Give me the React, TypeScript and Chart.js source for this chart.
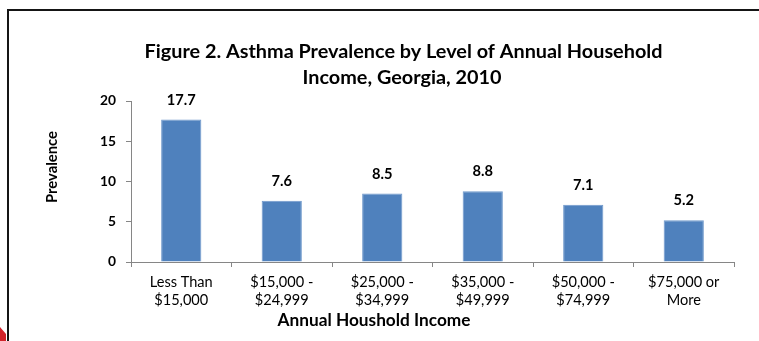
import React, { useEffect, useRef } from "react";
import { Chart, registerables } from "chart.js";

Chart.register(...registerables);

const categories: string[][] = [
  ["Less Than", "$15,000"],
  ["$15,000 -", "$24,999"],
  ["$25,000 -", "$34,999"],
  ["$35,000 -", "$49,999"],
  ["$50,000 -", "$74,999"],
  ["$75,000 or", "More"],
];
const prevalence: number[] = [17.7, 7.6, 8.5, 8.8, 7.1, 5.2];
const yTicks: number[] = [0, 5, 10, 15, 20];
const titleLines: string[] = [
  "Figure 2. Asthma Prevalence by Level of Annual Household",
  "Income, Georgia, 2010",
];
const xTitle = "Annual Houshold Income";
const yTitle = "Prevalence";

const FONT = "Lato, 'Open Sans', sans-serif";
const W = 759;
const H = 341;

function fitSize(text: string, weight: string, target: number): number {
  const c = document.createElement("canvas");
  const ctx = c.getContext("2d")!;
  ctx.font = `${weight} 100px ${FONT}`;
  const w = ctx.measureText(text).width;
  return (100 * target) / w;
}

export default function App() {
  const ref = useRef<HTMLCanvasElement | null>(null);

  useEffect(() => {
    const canvas = ref.current;
    if (!canvas) return;

    const titleSize = fitSize(titleLines[0], "bold", 518);
    const xTitleSize = fitSize(xTitle, "bold", 193);
    const yTitleSize = fitSize(yTitle, "bold", 72);
    const tickSize = fitSize("Less Than", "normal", 63);
    const labelSize = fitSize("17.7", "bold", 29);
    const yTickSize = fitSize("20", "bold", 16);

    const deco = {
      id: "deco",
      beforeDraw(chart: any) {
        const ctx = chart.ctx;
        ctx.save();
        ctx.fillStyle = "#ffffff";
        ctx.fillRect(0, 0, W, H);
        ctx.restore();
      },
      afterDraw(chart: any) {
        const ctx = chart.ctx as CanvasRenderingContext2D;
        ctx.save();
        // frame
        ctx.strokeStyle = "#151515";
        ctx.lineWidth = 2;
        ctx.beginPath();
        ctx.moveTo(7, 10);
        ctx.lineTo(W, 10);
        ctx.moveTo(8, 9);
        ctx.lineTo(8, H);
        ctx.stroke();
        // red corner
        ctx.fillStyle = "#d2232a";
        ctx.beginPath();
        ctx.moveTo(0, 327);
        ctx.lineTo(6, 334);
        ctx.lineTo(6, H);
        ctx.lineTo(0, H);
        ctx.closePath();
        ctx.fill();

        ctx.fillStyle = "#000000";
        ctx.textAlign = "center";
        ctx.textBaseline = "middle";
        // title
        ctx.font = `bold ${titleSize}px ${FONT}`;
        ctx.fillText(titleLines[0], 403.5, 52);
        ctx.fillText(titleLines[1], 402, 78);
        // x title
        ctx.font = `bold ${xTitleSize}px ${FONT}`;
        ctx.fillText(xTitle, 374, 320);
        // y title
        ctx.save();
        ctx.translate(52, 167);
        ctx.rotate(-Math.PI / 2);
        ctx.font = `bold ${yTitleSize}px ${FONT}`;
        ctx.fillText(yTitle, 0, 0);
        ctx.restore();
        // data labels
        ctx.font = `bold ${labelSize}px ${FONT}`;
        const meta = chart.getDatasetMeta(0);
        meta.data.forEach((bar: any, i: number) => {
          ctx.fillText(prevalence[i].toFixed(1), bar.x, bar.y - 19.5);
        });
        ctx.restore();
      },
    };

    const chart = new Chart(canvas, {
      type: "bar",
      data: {
        labels: categories,
        datasets: [
          {
            data: prevalence,
            backgroundColor: "#4F81BD",
            borderColor: "#6F98CB",
            borderWidth: 1,
            categoryPercentage: 0.5,
            barPercentage: 0.8,
          },
        ],
      },
      options: {
        animation: false,
        responsive: false,
        maintainAspectRatio: false,
        devicePixelRatio: 1,
        layout: { padding: { left: 0, right: W - 734, top: 101, bottom: 0 } },
        plugins: {
          legend: { display: false },
          title: { display: false },
          tooltip: { enabled: false },
        },
        scales: {
          x: {
            offset: true,
            grid: {
              offset: true,
              drawOnChartArea: false,
              drawTicks: true,
              tickLength: 5,
              color: "#868686",
            },
            border: { color: "#868686", width: 1 },
            ticks: {
              color: "#000000",
              font: { family: FONT, size: tickSize, lineHeight: 18 / tickSize },
              padding: 6,
              maxRotation: 0,
              autoSkip: false,
            },
            afterFit(scale: any) {
              scale.height = H - 262;
            },
          },
          y: {
            min: 0,
            max: 20,
            grid: {
              drawOnChartArea: false,
              drawTicks: true,
              tickLength: 5,
              color: "#868686",
            },
            border: { color: "#868686", width: 1 },
            ticks: {
              color: "#000000",
              font: { family: FONT, size: yTickSize, weight: "bold" },
              padding: 10,
            },
            afterBuildTicks(scale: any) {
              scale.ticks = yTicks.map((v) => ({ value: v }));
            },
            afterFit(scale: any) {
              scale.width = 131;
            },
          },
        },
      },
      plugins: [deco],
    } as any);

    return () => {
      chart.destroy();
    };
  }, []);

  return (
    <div style={{ position: "absolute", left: 0, top: 0, width: W, height: H }}>
      <canvas ref={ref} width={W} height={H} style={{ display: "block" }} />
    </div>
  );
}
